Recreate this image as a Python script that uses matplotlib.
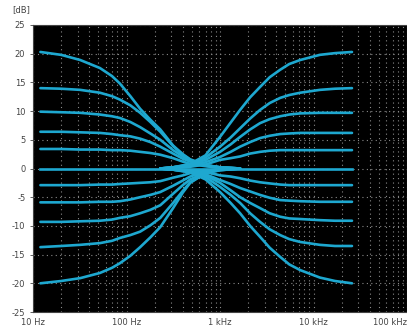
import matplotlib
matplotlib.use("Agg")
import matplotlib.pyplot as plt

# frequencies (Hz)
bass_f = [12, 20, 32, 52, 70, 85, 110, 140, 180, 230, 315, 400, 480, 700, 1000, 1640]
treble_f = [230, 315, 480, 700, 1000, 1300, 1640, 2100, 2680, 3400, 4400, 5500, 7200, 11700, 17000, 25800]

# bass shelf curves, dB
bass_boost = [
    [20.3, 19.8, 18.9, 17.5, 16.1, 14.8, 12.6, 10.4, 8.5, 6.8, 4.0, 2.5, 1.6, 0.6, 0.2, 0.0],
    [14.0, 13.9, 13.7, 13.2, 12.6, 12.0, 11.0, 9.7, 8.1, 6.4, 3.9, 2.4, 1.5, 0.6, 0.2, 0.0],
    [9.9, 9.8, 9.7, 9.4, 9.1, 8.8, 8.1, 7.2, 6.1, 5.0, 3.2, 2.1, 1.4, 0.5, 0.2, 0.0],
    [6.4, 6.4, 6.3, 6.2, 6.0, 5.8, 5.6, 5.2, 4.6, 3.8, 2.6, 1.7, 1.2, 0.5, 0.2, 0.0],
    [3.4, 3.4, 3.3, 3.3, 3.2, 3.2, 3.1, 2.9, 2.7, 2.4, 1.8, 1.2, 0.8, 0.4, 0.1, 0.0],
]
bass_cut = [
    [-20.0, -19.6, -19.1, -18.2, -17.3, -16.5, -15.2, -13.7, -12.0, -10.2, -6.9, -4.2, -2.5, -0.8, -0.3, 0.0],
    [-13.7, -13.5, -13.3, -13.0, -12.6, -12.1, -11.6, -11.0, -9.9, -8.6, -6.0, -3.9, -2.4, -0.8, -0.3, 0.0],
    [-9.3, -9.3, -9.2, -9.1, -8.9, -8.6, -8.3, -7.8, -7.2, -6.4, -4.4, -2.9, -1.9, -0.7, -0.2, 0.0],
    [-5.9, -5.9, -5.9, -5.8, -5.8, -5.7, -5.4, -5.0, -4.6, -4.1, -3.0, -2.1, -1.4, -0.5, -0.2, 0.0],
    [-2.9, -2.9, -2.9, -2.8, -2.8, -2.7, -2.6, -2.5, -2.4, -2.2, -1.6, -1.2, -0.8, -0.4, -0.1, 0.0],
]

# treble shelf curves, dB
treble_boost = [
    [0.0, 0.2, 0.8, 2.3, 5.5, 8.0, 10.2, 12.4, 14.2, 15.9, 17.2, 18.2, 18.9, 19.8, 20.1, 20.3],
    [0.0, 0.2, 0.7, 1.9, 3.8, 5.4, 7.0, 8.7, 10.2, 11.4, 12.3, 12.8, 13.2, 13.7, 13.9, 14.0],
    [0.0, 0.2, 0.6, 1.5, 2.9, 4.2, 5.5, 6.8, 7.9, 8.6, 9.1, 9.4, 9.6, 9.7, 9.7, 9.7],
    [0.0, 0.2, 0.5, 1.1, 2.0, 2.9, 3.8, 4.6, 5.3, 5.7, 6.0, 6.1, 6.2, 6.2, 6.2, 6.2],
    [0.0, 0.1, 0.3, 0.7, 1.5, 1.8, 2.1, 2.6, 2.9, 3.1, 3.2, 3.2, 3.2, 3.2, 3.2, 3.2],
]
treble_cut = [
    [0.0, -0.2, -0.7, -1.9, -4.1, -6.0, -7.8, -10.0, -11.9, -13.8, -15.4, -16.7, -17.7, -19.0, -19.6, -20.0],
    [0.0, -0.2, -0.6, -1.5, -3.2, -4.6, -6.0, -7.8, -9.3, -10.6, -11.6, -12.3, -12.8, -13.3, -13.5, -13.5],
    [0.0, -0.2, -0.5, -1.2, -2.5, -3.8, -5.0, -6.0, -6.9, -7.8, -8.4, -8.7, -8.8, -9.0, -9.1, -9.1],
    [0.0, -0.2, -0.4, -1.0, -2.0, -2.7, -3.4, -4.0, -4.6, -5.1, -5.5, -5.6, -5.7, -5.8, -5.8, -5.8],
    [0.0, -0.1, -0.3, -0.6, -1.2, -1.4, -1.7, -2.1, -2.4, -2.6, -2.8, -2.9, -2.9, -2.9, -2.9, -2.9],
]

flat_f = [12, 25800]
flat_db = [0.0, 0.0]

x_ticks = [10, 100, 1000, 10000, 100000]
x_labels = ["10 Hz", "100 Hz", "1 kHz", "10 kHz", "100 kHz"]
y_ticks = [25, 20, 15, 10, 5, 0, -5, -10, -15, -20, -25]

fig = plt.figure(figsize=(4.07, 3.30), dpi=100)
ax = fig.add_axes([33 / 407, 18 / 330, 374 / 407, 287 / 330])
ax.set_facecolor("black")

col = "#1ea8d0"
for ys in bass_boost + bass_cut:
    ax.plot(bass_f, ys, color=col, lw=1.9, solid_joinstyle="round", solid_capstyle="round")
for ys in treble_boost + treble_cut:
    ax.plot(treble_f, ys, color=col, lw=1.9, solid_joinstyle="round", solid_capstyle="round")
ax.plot(flat_f, flat_db, color=col, lw=1.9)

ax.set_xscale("log")
ax.set_xlim(10, 100000)
ax.set_ylim(-25, 25)
ax.set_xticks(x_ticks)
ax.set_xticklabels(x_labels)
ax.set_yticks(y_ticks)
ax.set_yticklabels([str(v) for v in y_ticks])
ax.xaxis.get_majorticklabels()[-1].set_horizontalalignment("right")

ax.grid(True, which="both", axis="x", color="#8a8a8a", linestyle=(0, (1, 3)), lw=0.8)
ax.grid(True, which="major", axis="y", color="#8a8a8a", linestyle=(0, (1, 3)), lw=0.8)
ax.set_axisbelow(True)

ax.tick_params(axis="both", which="both", labelsize=6, colors="#444444", length=2, width=0.6)
ax.tick_params(axis="x", which="minor", length=0)
ax.tick_params(axis="x", which="major", length=0, pad=4)
for s in ax.spines.values():
    s.set_color("#444444")
    s.set_linewidth(0.8)

fig.text(12 / 407, 1 - 10 / 330, "[dB]", fontsize=6, color="#444444", va="center", ha="left")

fig.savefig("out.png", dpi=100)
